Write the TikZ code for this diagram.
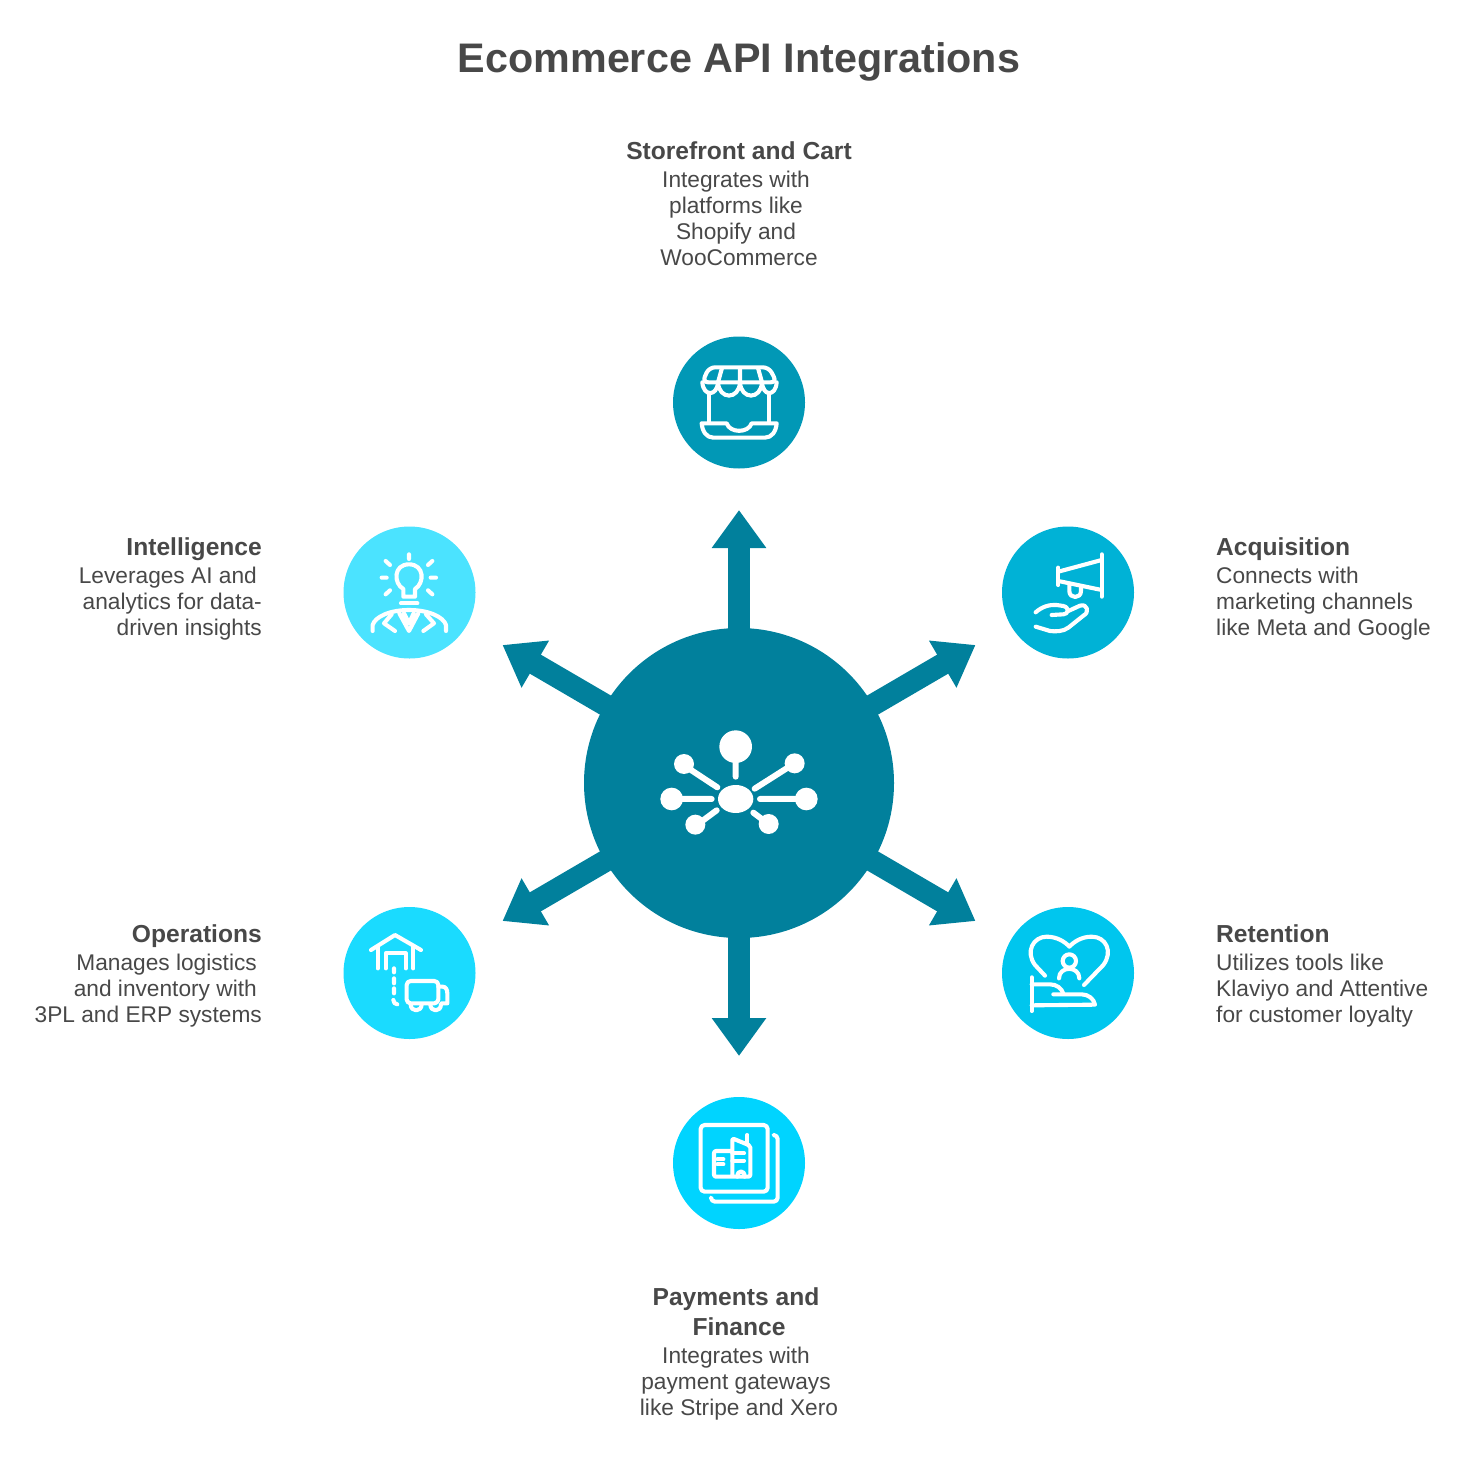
\documentclass[tikz,border=0pt]{standalone}
\usepackage{fontspec}
\setmainfont{Liberation Sans}
\usetikzlibrary{arrows.meta,calc}

\definecolor{hubcol}{HTML}{01809C}
\definecolor{storecol}{HTML}{0198B6}
\definecolor{acqcol}{HTML}{00B2D6}
\definecolor{retcol}{HTML}{00C6EE}
\definecolor{paycol}{HTML}{00D4FF}
\definecolor{opscol}{HTML}{1ADBFF}
\definecolor{intcol}{HTML}{4BE3FF}
\definecolor{txtcol}{HTML}{484848}

\newcommand{\headfont}{\fontsize{24.6}{30}\selectfont\bfseries}
\newcommand{\bodyfont}{\fontsize{22.7}{26}\selectfont}

\tikzset{
  disc/.style={circle, inner sep=0pt, minimum size=132pt, fill=#1},
  spoke/.style={draw=hubcol, line width=22pt, shorten <=-3pt,
    -{Triangle[length=38pt,width=52pt]}},
  lbl/.style={inner sep=0pt, text=txtcol, font=\bodyfont},
  icon/.style={draw=white, line width=4.1pt, line cap=round, line join=round,
    shift={#1}, x=0.3333pt, y=-0.3333pt},
}

\begin{document}
\begin{tikzpicture}[x=1pt, y=-1pt]
  \useasboundingbox (0,0) rectangle (1469,1461);

  % заголовок
  \node[lbl, font=\fontsize{41.3}{48}\selectfont\bfseries] (title) at (739,62) {Ecommerce API Integrations};

  % центр и кружки
  \node[circle, inner sep=0pt, minimum size=310pt, fill=hubcol] (hub) at (739,783) {};
  \node[disc=storecol] (store) at (739,402.5) {};
  \node[disc=acqcol] (acq) at (1068,592.5) {};
  \node[disc=retcol] (ret) at (1068,973) {};
  \node[disc=paycol] (pay) at (739,1163) {};
  \node[disc=opscol] (ops) at (409.5,973) {};
  \node[disc=intcol] (intel) at (409.5,592.5) {};

  % стрелки
  \coordinate (tipStore) at (739,510);
  \coordinate (tipAcq) at (975.5,645);
  \coordinate (tipRet) at (975.5,921);
  \coordinate (tipPay) at (739,1056);
  \coordinate (tipOps) at (502.5,921);
  \coordinate (tipInt) at (502.5,645);
  \foreach \t in {tipStore,tipAcq,tipRet,tipPay,tipOps,tipInt}
    \draw[spoke] (hub) -- (\t);

  % подписи
  \node[lbl, align=center, anchor=north] (storeT) at (739,141) {{\headfont Storefront and Cart}\\[2pt]Integrates with\kern6pt\\platforms like\kern6pt\\Shopify and\kern6pt\\WooCommerce};
  \node[lbl, align=left, anchor=north west] (acqT) at (1216,537) {{\headfont Acquisition}\\[2pt]Connects with\\marketing channels\\like Meta and Google};
  \node[lbl, align=left, anchor=north west] (retT) at (1216,924) {{\headfont Retention}\\[2pt]Utilizes tools like\\Klaviyo and Attentive\\for customer loyalty};
  \node[lbl, align=center, anchor=north] (payT) at (739,1287) {{\headfont Payments and\kern6pt}\\[4pt]{\headfont Finance}\\[2pt]Integrates with\kern6pt\\payment gateways\kern6pt\\like Stripe and Xero};
  \node[lbl, align=right, anchor=north east] (opsT) at (262,924) {{\headfont Operations}\\[2pt]Manages logistics\kern5pt\\and inventory with\kern5pt\\3PL and ERP systems};
  \node[lbl, align=right, anchor=north east] (intT) at (262,537) {{\headfont Intelligence}\\[2pt]Leverages AI and\kern5pt\\analytics for data-\\driven insights};

  % значок центра
  \begin{scope}[shift={(640,700)}, x=0.3333pt, y=-0.3333pt]
    \fill[white] (287,140) circle (49) (287,297) ellipse (53 and 42)
      (132,192) circle (30) (464,190) circle (30) (95,297) circle (34)
      (499,297) circle (34) (166,374) circle (30) (386,372) circle (30);
    \draw[white, line width=6pt, line cap=round]
      (287,185) -- (287,230) (150,208) -- (232,262) (440,205) -- (344,266)
      (110,297) -- (215,297) (360,297) -- (480,297) (180,368) -- (230,331)
      (340,338) -- (372,362);
  \end{scope}

  % магазин
  \begin{scope}[icon={(670,335)}]
    \draw[rounded corners=6pt] (97,142) -- (117,97) -- (297,97) -- (320,142) -- cycle;
    \draw (156,99) -- (144,142) (210,99) -- (210,142) (264,99) -- (276,142);
    \draw (97,142) .. controls (100,185) and (141,185) .. (144,142)
      .. controls (147,195) and (207,195) .. (210,142)
      .. controls (213,195) and (273,195) .. (276,142)
      .. controls (279,185) and (317,185) .. (320,142);
    \draw (118,178) -- (118,262) (297,178) -- (297,262);
    \draw (95,265) -- (170,265) .. controls (180,295) and (235,295) .. (245,265) -- (320,265)
      .. controls (318,290) and (305,308) .. (285,308) -- (130,308) .. controls (110,308) and (97,290) .. (95,265);
  \end{scope}

  % рупор и рука
  \begin{scope}[icon={(1000,525)}]
    \draw (305,88) -- (305,215) (175,128) -- (175,180);
    \draw (175,140) -- (305,105) (175,168) -- (305,195);
    \draw (208,178) -- (208,198) .. controls (208,222) and (243,222) .. (243,198) -- (243,188);
    \draw (107,262) .. controls (125,245) and (150,238) .. (170,240) -- (190,243)
      .. controls (210,248) and (205,268) .. (190,268) -- (155,270);
    \draw (205,258) -- (240,242) .. controls (262,235) and (270,262) .. (250,272)
      -- (205,308) .. controls (190,320) and (165,320) .. (150,318) -- (107,305);
  \end{scope}

  % сердце и рука
  \begin{scope}[icon={(1000,905)}]
    \draw (135,212) -- (105,180) .. controls (75,140) and (100,95) .. (140,95)
      .. controls (170,95) and (195,110) .. (208,125)
      .. controls (222,110) and (245,95) .. (275,95)
      .. controls (318,95) and (340,140) .. (310,180) -- (252,240);
    \draw (208,168) circle (20);
    \draw (177,220) .. controls (177,182) and (238,182) .. (238,220);
    \draw (95,217) -- (95,318);
    \draw (95,238) -- (150,238) .. controls (170,238) and (185,250) .. (190,266);
    \draw (160,268) -- (245,268) .. controls (265,268) and (282,282) .. (285,299) -- (95,301);
  \end{scope}

  % документы
  \begin{scope}[icon={(670,1095)}]
    \draw[rounded corners=4pt] (92,90) rectangle (293,290);
    \draw[rounded corners=4pt] (312,120) -- (323,120) -- (323,320) -- (123,320) -- (123,308);
    \draw[rounded corners=2pt] (187,245) -- (187,130) -- (241,152) -- (241,245) -- (132,245) -- (132,168) -- (187,168);
    \draw (232,120) -- (232,148) (187,175) -- (222,175) (187,197) -- (222,197) (142,193) -- (160,193) (142,208) -- (160,208);
    \draw (202,245) .. controls (202,224) and (224,224) .. (224,245);
  \end{scope}

  % склад и грузовик
  \begin{scope}[icon={(340,905)}]
    \draw (93,135) -- (165,90) -- (243,135);
    \draw (113,190) -- (113,125) (220,190) -- (220,125);
    \draw (137,190) -- (137,145) -- (197,145) -- (197,190);
    \draw (162,190) -- (162,202) (162,220) -- (162,235) (162,250) -- (162,265)
      (160,285) .. controls (160,292) and (165,298) .. (172,298);
    \draw[rounded corners=4pt] (200,295) -- (200,228) -- (295,228) -- (295,295) -- cycle;
    \draw (295,245) -- (308,245) .. controls (318,245) and (322,255) .. (322,265) -- (322,295) -- (305,295);
    \draw (212,298) .. controls (212,322) and (245,322) .. (245,298);
    \draw (271,298) .. controls (271,322) and (303,322) .. (303,298);
  \end{scope}

  % лампа и человек
  \begin{scope}[icon={(340,525)}]
    \draw (190,215) -- (190,192) .. controls (160,175) and (160,118) .. (207,118)
      .. controls (254,118) and (254,175) .. (225,192) -- (225,215) -- cycle;
    \draw (183,235) -- (232,235);
    \draw (207,88) -- (207,102) (137,108) -- (150,120) (277,108) -- (264,120)
      (125,158) -- (140,158) (272,158) -- (288,158) (137,208) -- (150,196) (264,196) -- (277,208);
    \draw (98,318) -- (98,300) .. controls (105,275) and (150,255) .. (207,255)
      .. controls (265,255) and (310,275) .. (318,300) -- (318,318);
    \draw (178,265) -- (207,318) -- (235,265) (192,265) -- (207,295) -- (221,265);
    \draw (155,268) -- (132,295) -- (165,318);
    \draw (258,268) -- (282,295) -- (250,318);
  \end{scope}
\end{tikzpicture}
\end{document}
